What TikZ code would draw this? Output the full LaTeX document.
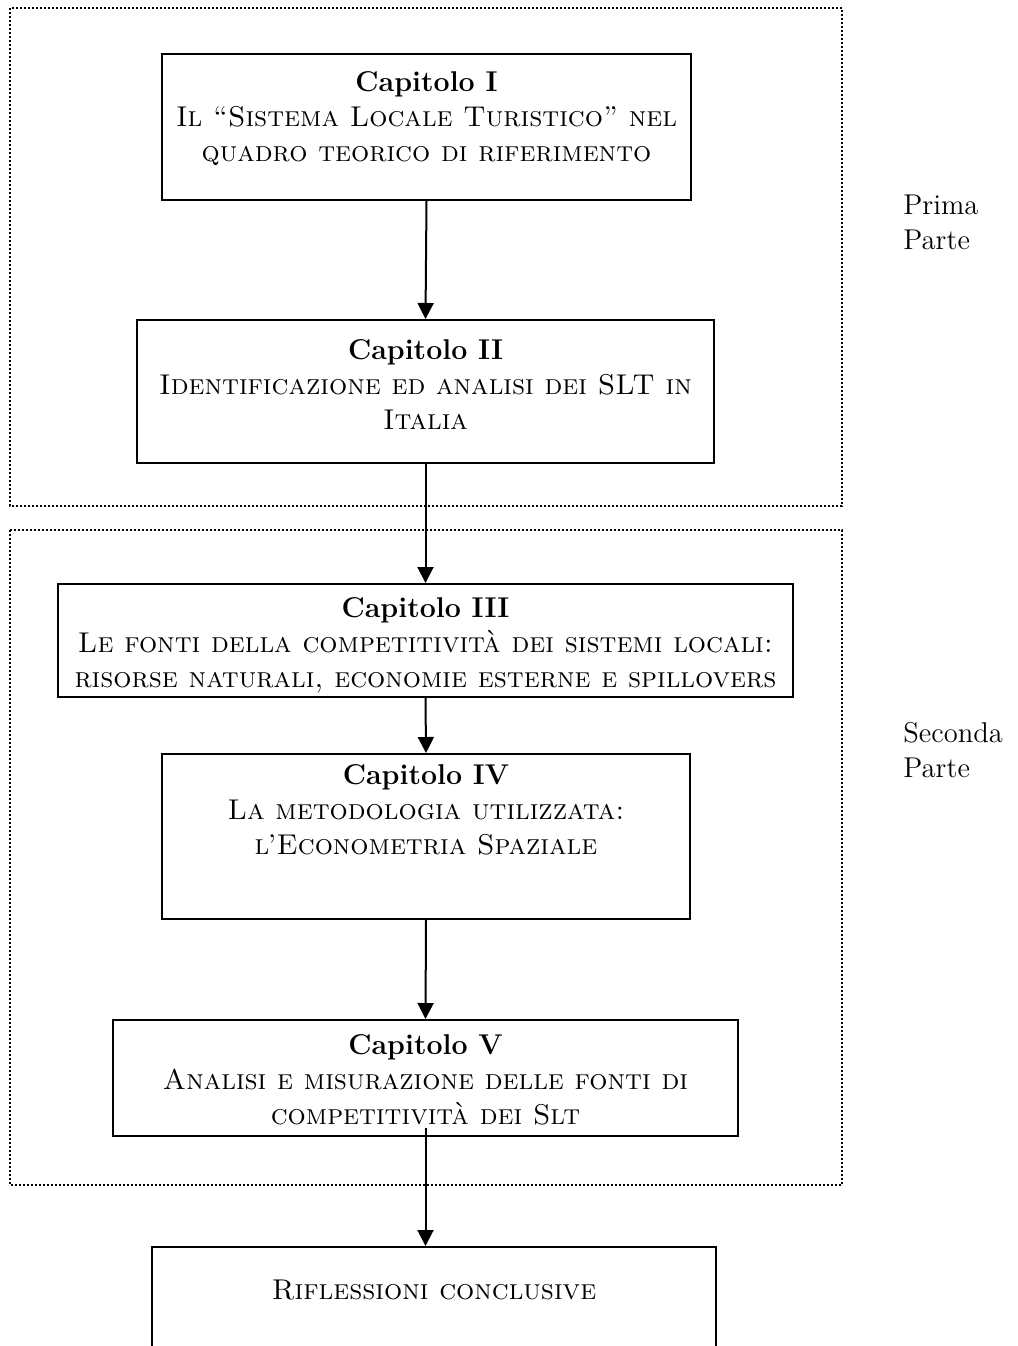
\documentclass[tikz,border=0pt]{standalone}
\usepackage{tikz}
\usetikzlibrary{arrows.meta,positioning}

\tikzset{
  chbox/.style={draw, line width=1pt, inner sep=0pt},
  chtext/.style={align=center, inner sep=0pt, font=\fontsize{14.3}{17.5}\selectfont},
  partframe/.style={draw, line width=1pt, dash pattern=on 1pt off 1pt},
  partlabel/.style={align=left, inner sep=0pt, anchor=west, font=\fontsize{14.3}{17.5}\selectfont},
  flow/.style={line width=1pt, -{Triangle[length=8pt,width=8pt]}}
}

\begin{document}
\begin{tikzpicture}[x=0.5pt, y=-0.5pt]

    \useasboundingbox (0,0) rectangle (1018,1346);
    \clip (0,0) rectangle (1018,1346);

    % the two parts
    \draw[partframe] (10,8) rectangle (842,506);
    \draw[partframe] (10,530) rectangle (842,1185);
    \node[partlabel] (prima) at (903,222) {Prima\\Parte};
    \node[partlabel] (seconda) at (903,750) {Seconda\\Parte};

    % chapters
    \node[chbox, minimum width=264.5pt, minimum height=73pt] (cap1) at (426.5,127) {};
    \node[chtext] (cap1_txt) at (426.5,119)
      {\textbf{Capitolo I}\\\textsc{Il ``Sistema Locale Turistico'' nel}\\\textsc{quadro teorico di riferimento}};

    \node[chbox, minimum width=288.5pt, minimum height=71.5pt] (cap2) at (425.5,391.5) {};
    \node[chtext] (cap2_txt) at (425.5,385)
      {\textbf{Capitolo II}\\\textsc{Identificazione ed analisi dei SLT in}\\\textsc{Italia}};

    \node[chbox, minimum width=367.5pt, minimum height=56.5pt] (cap3) at (425.5,640.5) {};
    \node[chtext] (cap3_txt) at (425.5,645)
      {\textbf{Capitolo III}\\\textsc{Le fonti della competitività dei sistemi locali:}\\\textsc{risorse naturali, economie esterne e spillovers}};

    \node[chbox, minimum width=264pt, minimum height=82.5pt] (cap4) at (426,836.5) {};
    \node[chtext] (cap4_txt) at (426,810)
      {\textbf{Capitolo IV}\\\textsc{La metodologia utilizzata:}\\\textsc{l'Econometria Spaziale}};

    \node[chbox, minimum width=312.5pt, minimum height=58pt] (cap5) at (425.5,1078) {};
    \node[chtext] (cap5_txt) at (425.5,1080)
      {\textbf{Capitolo V}\\\textsc{Analisi e misurazione delle fonti di}\\\textsc{competitività dei Slt}};

    \node[chbox, minimum width=282pt, minimum height=75pt] (concl) at (434,1322) {};
    \node[chtext] (concl_txt) at (434,1290) {\textsc{Riflessioni conclusive}};

    % arrows
    \draw[flow] (cap1.south) -- (cap2.north);
    \draw[flow] (cap2.south) -- (cap3.north);
    \draw[flow] (cap3.south) -- (cap4.north);
    \draw[flow] (cap4.south) -- (cap5.north);
    \draw[flow] ([yshift=4.5pt]cap5.south) -- (cap5.south |- concl.north);

\end{tikzpicture}
\end{document}
